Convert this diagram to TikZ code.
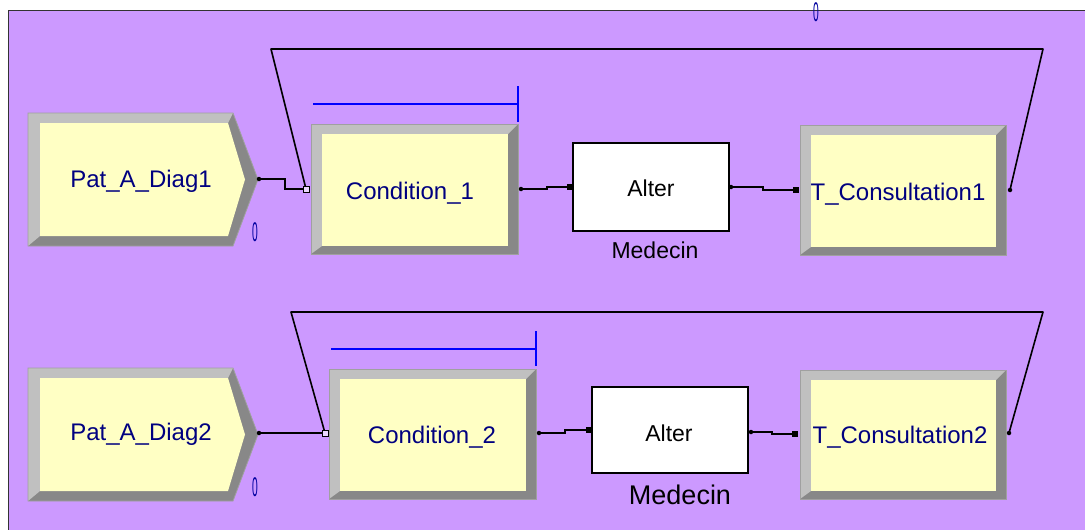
\documentclass[tikz,border=0pt]{standalone}
\usepackage{graphicx}
\usepackage{fontspec}
\setmainfont{Liberation Sans}
\definecolor{bgpurple}{HTML}{CC99FF}
\definecolor{modyellow}{HTML}{FFFFC4}
\definecolor{bevlight}{HTML}{C0C0C0}
\definecolor{bevdark}{HTML}{888888}
\definecolor{bevedge}{HTML}{A0A0A0}
\definecolor{labelnavy}{HTML}{000080}
\definecolor{qblue}{HTML}{0000FF}
\definecolor{zeroblue}{HTML}{0000A0}

\newcommand{\arenaproc}[4]{%
  \fill[bevdark] (#1,#2) rectangle (#3,#4);
  \fill[bevlight] (#1,#2) -- (#3,#2) -- (#3-10,#2+10) -- (#1+11,#2+10) -- (#1+11,#4-8) -- (#1,#4) -- cycle;
  \fill[modyellow] (#1+11,#2+10) rectangle (#3-10,#4-8);
  \draw[bevedge, line width=0.8pt] (#1,#2) rectangle (#3,#4);
}
\newcommand{\arenacreate}[1]{%
  \fill[bevdark] (28,#1) -- (233,#1) -- (258,#1+66.5) -- (233,#1+133) -- (28,#1+133) -- cycle;
  \fill[bevlight] (28,#1) -- (233,#1) -- (228,#1+10) -- (40,#1+10) -- (40,#1+123) -- (28,#1+133) -- cycle;
  \fill[modyellow] (40,#1+10) -- (228,#1+10) -- (245,#1+66.5) -- (228,#1+123) -- (40,#1+123) -- cycle;
  \draw[bevedge, line width=0.8pt] (28,#1) -- (233,#1) -- (258,#1+66.5) -- (233,#1+133) -- (28,#1+133) -- cycle;
}

\begin{document}
\begin{tikzpicture}[x=1pt,y=-1pt,
  modlabel/.style={font=\fontsize{24}{28}\selectfont, text=labelnavy, inner sep=0pt, anchor=base},
  reslabel/.style={font=\fontsize{23}{27}\selectfont, text=black, inner sep=0pt, anchor=base},
  zerolbl/.style={font=\fontsize{27}{31}\selectfont, text=zeroblue, inner sep=0pt},
  connector/.style={draw=black, line width=1.4pt},
  loopline/.style={draw=black, line width=1.6pt, line join=round},
  queueline/.style={draw=qblue, line width=2pt},
  outdot/.style={circle, fill=black, inner sep=0pt, minimum size=4.5pt},
  insq/.style={rectangle, fill=black, inner sep=0pt, minimum size=5.5pt},
  entsq/.style={rectangle, draw=black, fill=white!60!bgpurple, line width=0.9pt, inner sep=0pt, minimum size=6pt},
  resbox/.style={draw=black, fill=white, line width=1.5pt}
]
\useasboundingbox (0,0) rectangle (1085,530);
\fill[white] (0,0) rectangle (1085,530);
\fill[bgpurple] (9,11) rectangle (1085,530);
\draw[black!80, line width=1.5pt] (8.5,530) -- (8.5,10.5) -- (1085,10.5);

% ---------- modules row 1 ----------
\arenacreate{113}
\arenaproc{311}{124}{518}{254}
\fill[white] (573,143) rectangle (729,231);
\draw[resbox] (573,143) rectangle (729,231);
\arenaproc{800}{125}{1006}{255}

% ---------- modules row 2 ----------
\arenacreate{368}
\arenaproc{329}{369}{536}{499}
\draw[resbox] (592,387) rectangle (748,473);
\arenaproc{800}{370}{1006}{499}

% ---------- queues ----------
\draw[queueline] (313,104) -- (518,104);
\draw[queueline] (518,86) -- (518,122);
\draw[queueline] (331,349) -- (536,349);
\draw[queueline] (536,331) -- (536,366);

% ---------- labels ----------
\node[modlabel] (pat1) at (141,187) {Pat\_A\_Diag1};
\node[modlabel] (cond1) at (410,199) {Condition\_1};
\node[reslabel] (alt1) at (651,196) {Alter};
\node[reslabel] (med1) at (655,258) {Medecin};
\node[modlabel] (tc1) at (898,200) {T\_Consultation1};

\node[modlabel] (pat2) at (141,440) {Pat\_A\_Diag2};
\node[modlabel] (cond2) at (432,443) {Condition\_2};
\node[reslabel] (alt2) at (669,441) {Alter};
\node[reslabel, font=\fontsize{27}{31}\selectfont] (med2) at (680,504) {Medecin};
\node[modlabel] (tc2) at (900,443) {T\_Consultation2};

\node[zerolbl] (zero0) at (816,12) {\scalebox{0.38}[1]{0}};
\node[zerolbl] (zero1) at (255,232) {\scalebox{0.38}[1]{0}};
\node[zerolbl] (zero2) at (255,487) {\scalebox{0.38}[1]{0}};

% ---------- ports ----------
\coordinate (c1out) at (259,179);
\coordinate (j1) at (306,189);
\coordinate (cond1out) at (521,189);
\coordinate (alter1in) at (570,187);
\coordinate (alter1out) at (731,187);
\coordinate (tc1in) at (796,190);
\coordinate (tc1out) at (1010,190);
\coordinate (lp1a) at (1043,49);
\coordinate (lp1b) at (271,49);

\coordinate (c2out) at (259,433);
\coordinate (j2) at (325,433);
\coordinate (cond2out) at (539,433);
\coordinate (alter2in) at (589,430);
\coordinate (alter2out) at (751,432);
\coordinate (tc2in) at (795,434);
\coordinate (tc2out) at (1009,433);
\coordinate (lp2a) at (1043,312);
\coordinate (lp2b) at (291,312);

% ---------- connectors ----------
\draw[connector] (c1out) -- ++(26,0) |- (j1);
\draw[connector] (cond1out) -- ++(26,0) |- (alter1in);
\draw[connector] (alter1out) -- ++(32,0) |- (tc1in);
\draw[loopline] (tc1out) -- (lp1a) -- (lp1b) -- (j1);

\draw[connector] (c2out) -- (j2);
\draw[connector] (cond2out) -- ++(26,0) |- (alter2in);
\draw[connector] (alter2out) -- ++(21,0) |- (tc2in);
\draw[loopline] (tc2out) -- (lp2a) -- (lp2b) -- (j2);

% ---------- markers ----------
\node[outdot] (m1a) at (c1out) {};
\node[entsq] (m1b) at (j1) {};
\node[outdot] (m1c) at (cond1out) {};
\node[insq] (m1d) at (alter1in) {};
\node[outdot] (m1e) at (alter1out) {};
\node[insq] (m1f) at (tc1in) {};
\node[outdot] (m1g) at (tc1out) {};

\node[outdot] (m2a) at (c2out) {};
\node[entsq] (m2b) at (j2) {};
\node[outdot] (m2c) at (cond2out) {};
\node[insq] (m2d) at (alter2in) {};
\node[outdot] (m2e) at (alter2out) {};
\node[insq] (m2f) at (tc2in) {};
\node[outdot] (m2g) at (tc2out) {};
\end{tikzpicture}
\end{document}
